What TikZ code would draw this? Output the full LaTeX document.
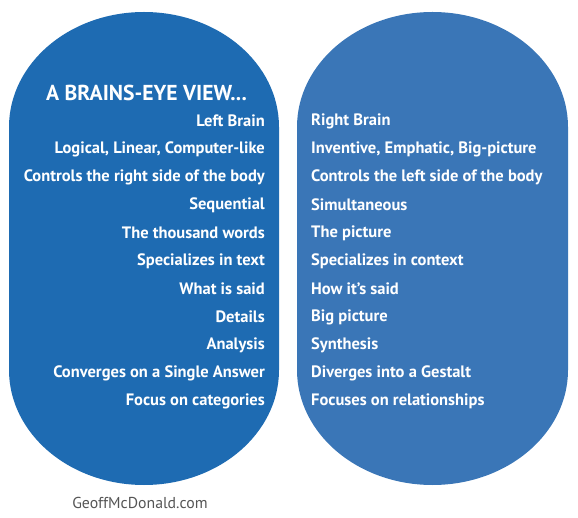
\documentclass[tikz,border=0pt]{standalone}
\usepackage{fontspec}
\setmainfont{PT Sans}
\usepackage{tikz}
\usetikzlibrary{positioning}
\definecolor{leftblue}{RGB}{30,107,178}
\definecolor{rightblue}{RGB}{58,118,183}
\definecolor{sitegray}{RGB}{85,85,85}
\tikzset{
    lobe/.style={draw=none},
    lefttext/.style={anchor=east, text=white, font=\bfseries\fontsize{16.5}{18}\selectfont, inner sep=0pt},
    righttext/.style={anchor=west, text=white, font=\bfseries\fontsize{16.5}{18}\selectfont, inner sep=0pt},
    heading/.style={anchor=west, text=white, font=\bfseries\fontsize{21.6}{24}\selectfont, inner sep=0pt},
    credit/.style={text=sitegray, font=\fontsize{15.8}{18}\selectfont, inner sep=0pt},
}
\begin{document}
\begin{tikzpicture}[x=1pt, y=1pt]
	\useasboundingbox (0,0) rectangle (578,517);
	% the two halves
	\fill[leftblue, lobe] (9,390) arc[x radius=135, y radius=115, start angle=180, end angle=0]
		-- (279,147) arc[x radius=135, y radius=115, start angle=0, end angle=-180] -- cycle;
\begin{scope}[shift={(288,0)}]
	\fill[rightblue, lobe] (9,390) arc[x radius=135.5, y radius=115, start angle=180, end angle=0]
		-- (280,147) arc[x radius=135.5, y radius=115, start angle=0, end angle=-180] -- cycle;
\end{scope}
	\node[heading] (title) at (46,424) {A BRAINS-EYE VIEW...};
	% left brain
	\node[lefttext] (l1) at (265,396) {Left Brain};
	\node[lefttext] (l2) at (265,368) {Logical, Linear, Computer-like};
	\node[lefttext] (l3) at (265,340) {Controls the right side of the body};
	\node[lefttext] (l4) at (265,312) {Sequential};
	\node[lefttext] (l5) at (265,284) {The thousand words};
	\node[lefttext] (l6) at (265,256) {Specializes in text};
	\node[lefttext] (l7) at (265,228) {What is said};
	\node[lefttext] (l8) at (265,200) {Details};
	\node[lefttext] (l9) at (265,172) {Analysis};
	\node[lefttext] (l10) at (265,144) {Converges on a Single Answer};
	\node[lefttext] (l11) at (265,116) {Focus on categories};
	% right brain
	\node[righttext] (r1) at (311,396) {Right Brain};
	\node[righttext] (r2) at (311,368) {Inventive, Emphatic, Big-picture};
	\node[righttext] (r3) at (311,340) {Controls the left side of the body};
	\node[righttext] (r4) at (311,312) {Simultaneous};
	\node[righttext] (r5) at (311,284) {The picture};
	\node[righttext] (r6) at (311,256) {Specializes in context};
	\node[righttext] (r7) at (311,228) {How it’s said};
	\node[righttext] (r8) at (311,200) {Big picture};
	\node[righttext] (r9) at (311,172) {Synthesis};
	\node[righttext] (r10) at (311,144) {Diverges into a Gestalt};
	\node[righttext] (r11) at (311,116) {Focuses on relationships};
	\node[credit] (site) at (140,14) {GeoffMcDonald.com};
\end{tikzpicture}
\end{document}
